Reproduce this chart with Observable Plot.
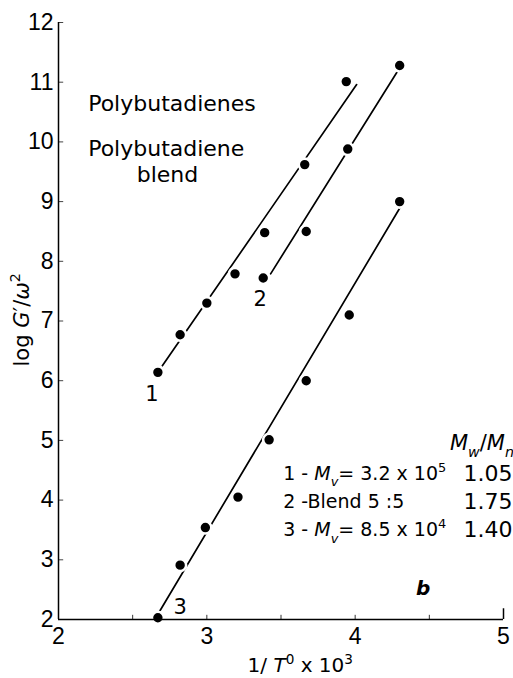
<!DOCTYPE html>
<html>
<head>
<meta charset="utf-8">
<script src="https://cdn.jsdelivr.net/npm/d3@7"></script>
<script src="https://cdn.jsdelivr.net/npm/@observablehq/plot@0.6"></script>
<style>
  body { margin: 0; background: #fff; }
</style>
</head>
<body>
<div id="chart"></div>
<script>
// ---- data ----
const series1X = [2.67, 2.82, 3.00, 3.19, 3.39, 3.66, 3.94];
const series1Y = [6.14, 6.77, 7.30, 7.79, 8.48, 9.62, 11.01];
const series2X = [3.38, 3.67, 3.95, 4.30];
const series2Y = [7.72, 8.50, 9.88, 11.28];
const series3X = [2.67, 2.82, 2.99, 3.21, 3.42, 3.67, 3.96, 4.30];
const series3Y = [2.03, 2.91, 3.54, 4.05, 5.01, 6.00, 7.10, 9.00];

// fitted straight lines (end points)
const fit1X = [2.70, 4.01], fit1Y = [6.25, 10.96];
const fit2X = [3.43, 4.29], fit2Y = [7.79, 11.20];
const fit3X = [2.68, 4.31], fit3Y = [2.13, 8.93];

const seriesNames = ["1", "2", "3"];
const seriesLabelX = [2.63, 3.36, 2.82];
const seriesLabelY = [5.78, 7.37, 2.20];

const xTickValues = [2, 3, 4, 5];
const yTickValues = [2, 3, 4, 5, 6, 7, 8, 9, 10, 11, 12];
const xMinorTicks = [2.5, 3, 3.5, 4, 4.5];

const titleLines = ["Polybutadienes", "Polybutadiene"];
const legendHeader = "*M*_{w}/*M*_{n}";
const legendRows = ["1 - *M*_{v}= 3.2 x 10^{5}", "2 -Blend 5 :5", "3 - *M*_{v}= 8.5 x 10^{4}"];
const legendRatios = ["1.05", "1.75", "1.40"];
const xLabel = "1/ *T*^{0} x 10^{3}";
const yLabel = "log *G*′/*ω*^{2}";

// ---- build tables ----
const points = [
  ...series1X.map((x, i) => ({s: "1", x, y: series1Y[i]})),
  ...series2X.map((x, i) => ({s: "2", x, y: series2Y[i]})),
  ...series3X.map((x, i) => ({s: "3", x, y: series3Y[i]}))
];
const fits = [
  ...fit1X.map((x, i) => ({s: "1", x, y: fit1Y[i]})),
  ...fit2X.map((x, i) => ({s: "2", x, y: fit2Y[i]})),
  ...fit3X.map((x, i) => ({s: "3", x, y: fit3Y[i]}))
];
const seriesLabels = seriesNames.map((t, i) => ({t, x: seriesLabelX[i], y: seriesLabelY[i]}));

const font = "DejaVu Sans";
const tickFont = "Liberation Sans";

const svg = Plot.plot({
  width: 513,
  height: 678,
  marginLeft: 58,
  marginRight: 10,
  marginTop: 22,
  marginBottom: 59,
  style: {background: "#fff", color: "#000", fontFamily: font},
  x: {domain: [2, 5]},
  y: {domain: [2, 12]},
  marks: [
    Plot.axisX({ticks: xTickValues, tickSize: 0, tickPadding: 8, label: null,
      fontSize: 23, fontFamily: tickFont, tickFormat: d => String(d)}),
    Plot.axisY({ticks: yTickValues, tickSize: 0, tickPadding: 5, label: null,
      fontSize: 23, fontFamily: tickFont, tickFormat: d => String(d)}),
    // inward minor ticks
    Plot.ruleX(xMinorTicks, {y1: 2, y2: 2.07, stroke: "#333", strokeWidth: 1}),
    Plot.ruleX([xTickValues[xTickValues.length - 1]], {y1: 2, y2: 2.18, stroke: "#000", strokeWidth: 1.5}),
    Plot.ruleY(yTickValues, {x1: 2, x2: 2.035, stroke: "#444", strokeWidth: 1}),
    // fitted lines
    Plot.line(fits, {x: "x", y: "y", z: "s", stroke: "#000", strokeWidth: 1.7}),
    // points with white halo to break the lines
    Plot.dot(points, {x: "x", y: "y", r: 6, fill: "#000", stroke: "#fff", strokeWidth: 2.6}),
    // axis lines
    Plot.ruleX([2], {y1: 2, y2: 12, stroke: "#000", strokeWidth: 1.5}),
    Plot.ruleY([2], {x1: 2, x2: 5, stroke: "#000", strokeWidth: 1.5}),
    // series numbers
    Plot.text(seriesLabels, {x: "x", y: "y", text: "t", fontSize: 21, fontFamily: font}),
    // titles
    Plot.text([titleLines[0]], {x: 2.20, y: 10.64, textAnchor: "start", fontSize: 22, fontFamily: font}),
    Plot.text([titleLines[1]], {x: 2.20, y: 9.89, textAnchor: "start", fontSize: 22, fontFamily: font}),
    Plot.text(["blend"], {x: 2.735, y: 9.44, fontSize: 22, fontFamily: font}),
    // legend
    Plot.text([legendHeader], {x: 4.855, y: 4.95, fontSize: 21, fontFamily: font}),
    Plot.text(legendRows, {x: 3.515, y: (d, i) => 4.445 - i * 0.475, text: d => d,
      textAnchor: "start", fontSize: 19, fontFamily: font}),
    Plot.text(legendRatios, {x: 5.06, y: (d, i) => 4.445 - i * 0.475, text: d => d,
      textAnchor: "end", fontSize: 22, fontFamily: font}),
    Plot.text(["b"], {x: 4.458, y: 2.52, fontSize: 20, fontStyle: "italic", fontWeight: "bold", fontFamily: font}),
    // axis labels
    Plot.text([xLabel], {x: 3.63, y: 1.22, fontSize: 20, fontFamily: font}),
    Plot.text([yLabel], {x: 1.755, y: 7.02, rotate: -90, fontSize: 21, fontFamily: font})
  ]
});

document.getElementById("chart").append(svg);

// turn the small markup (*italic*, ^{sup}, _{sub}) into tspans
function richify(el) {
  const s = el.textContent;
  if (!/\^\{|_\{|\*/.test(s)) return;
  const fs = parseFloat(getComputedStyle(el).fontSize) || 20;
  el.textContent = "";
  let offset = 0;
  const parts = s.split(/(\^\{[^}]*\}|_\{[^}]*\}|\*[^*]+\*)/).filter(p => p);
  for (const p of parts) {
    let txt = p, target = 0, size = null, italic = false;
    if (p.startsWith("^{")) { txt = p.slice(2, -1); target = -0.42 * fs; size = 0.68 * fs; }
    else if (p.startsWith("_{")) { txt = p.slice(2, -1); target = 0.34 * fs; size = 0.68 * fs; italic = true; }
    else if (p.length > 2 && p.startsWith("*") && p.endsWith("*")) { txt = p.slice(1, -1); italic = true; }
    const t = document.createElementNS("http://www.w3.org/2000/svg", "tspan");
    t.textContent = txt;
    if (target !== offset) t.setAttribute("dy", target - offset);
    offset = target;
    if (size) t.setAttribute("font-size", size);
    if (italic) t.setAttribute("font-style", "italic");
    el.appendChild(t);
  }
}
d3.select(svg).selectAll("text").each(function() { richify(this); });
</script>
</body>
</html>
